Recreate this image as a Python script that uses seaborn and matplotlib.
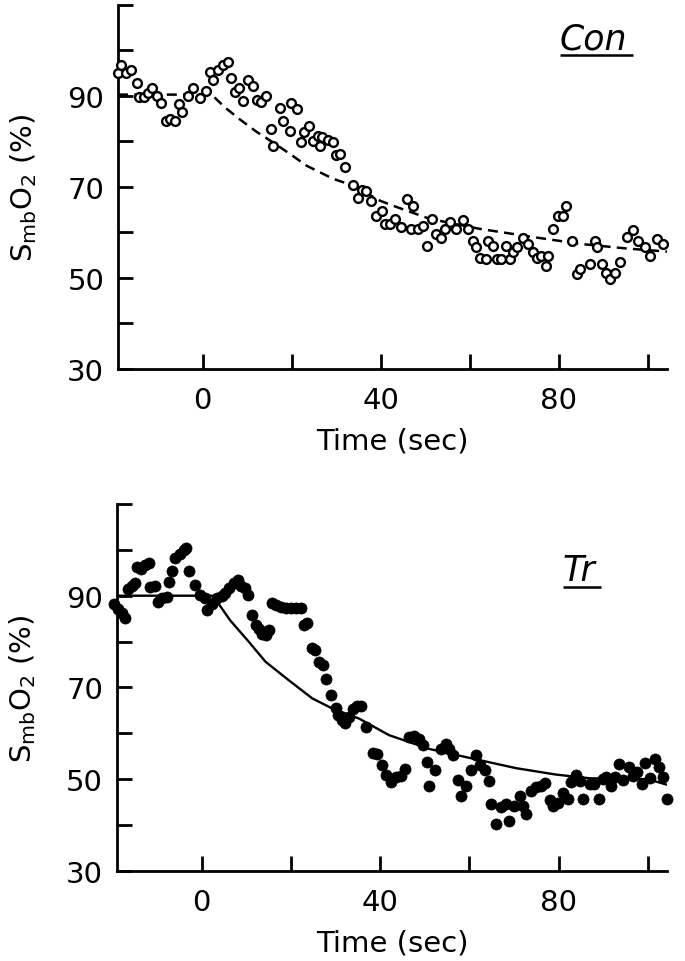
"""
SmbO2 time course after onset: control (Con) vs trained (Tr).
Output: out.png
"""
import matplotlib
matplotlib.use("Agg")
import matplotlib.pyplot as plt
import seaborn as sns
import pandas as pd

FIG_PATH = "out.png"

# Con: measured points (open circles)
con_t = [-19.0, -18.3, -17.2, -16.0, -14.8, -14.2, -13.2, -12.3, -11.3, -10.3,
         -9.3, -8.3, -7.4, -6.3, -5.3, -4.6, -3.3, -2.2, -0.7, 0.7,
         1.6, 2.3, 3.4, 4.6, 5.7, 6.4, 7.2, 8.2, 9.1, 10.2,
         11.3, 12.1, 13.2, 14.3, 15.4, 15.8, 17.3, 18.0, 19.6, 19.9,
         21.2, 22.2, 22.7, 23.9, 24.8, 25.9, 26.3, 26.9, 28.2, 29.3,
         30.0, 30.8, 31.9, 33.8, 34.9, 35.7, 36.8, 37.9, 39.0, 40.2,
         40.9, 42.0, 43.1, 44.6, 45.8, 46.9, 47.3, 48.4, 49.5, 50.3,
         51.4, 52.5, 53.6, 54.4, 55.5, 57.0, 58.4, 59.6, 60.7, 61.5,
         62.2, 63.6, 64.1, 65.2, 66.0, 67.1, 68.1, 69.0, 69.7, 70.5,
         72.0, 73.1, 74.2, 75.0, 76.1, 77.2, 77.6, 78.7, 79.8, 81.0,
         81.7, 82.9, 84.0, 84.7, 87.0, 88.1, 88.6, 89.6, 90.7, 91.5,
         92.6, 93.7, 95.2, 96.7, 97.8, 99.3, 100.4, 102.0, 103.4]
con_y = [95.1, 96.8, 95.1, 95.6, 92.8, 89.8, 89.8, 90.6, 91.7, 90.1,
         88.4, 84.4, 84.9, 84.4, 88.2, 86.5, 89.9, 91.7, 89.5, 91.2,
         95.2, 93.4, 95.6, 96.7, 97.4, 93.9, 90.9, 91.7, 89.0, 93.5,
         92.3, 89.2, 88.6, 90.1, 82.7, 78.9, 87.3, 84.4, 82.2, 88.5,
         87.1, 79.8, 82.0, 83.3, 80.0, 81.1, 78.9, 80.9, 80.4, 79.8,
         77.0, 77.3, 74.3, 70.4, 67.5, 69.4, 69.2, 67.0, 63.7, 64.8,
         61.9, 61.9, 63.0, 61.1, 67.4, 60.8, 65.9, 60.8, 61.5, 57.0,
         63.0, 59.7, 58.7, 60.8, 62.2, 60.8, 62.8, 60.8, 58.2, 56.7,
         54.5, 54.2, 58.2, 57.1, 54.2, 54.2, 57.0, 54.2, 55.6, 56.7,
         58.7, 57.5, 55.6, 54.3, 54.9, 52.7, 54.9, 60.8, 63.7, 63.7,
         65.9, 58.2, 50.9, 52.0, 53.1, 58.2, 56.7, 53.1, 51.2, 49.8,
         51.1, 53.6, 58.9, 60.6, 58.2, 56.7, 54.9, 58.6, 57.5]

# Con: fitted curve (dashed)
con_fit_t = [-19.0, 2.0, 5.0, 8.3, 12.0, 15.8, 20.0, 23.3, 29.3, 33.8,
             39.8, 42.7, 51.0, 62.2, 74.2, 84.7, 95.0, 104.3]
con_fit_y = [90.3, 90.3, 87.5, 84.9, 82.2, 79.8, 77.0, 74.7, 71.8, 70.3,
             67.0, 65.9, 63.0, 60.8, 59.0, 57.5, 56.5, 55.8]

# Tr: measured points (filled circles)
tr_t = [-19.6, -18.7, -17.8, -17.3, -16.6, -15.7, -14.9, -14.5, -13.6, -12.7,
        -11.9, -11.5, -10.4, -9.7, -8.8, -7.8, -7.4, -6.7, -5.9, -4.8,
        -4.0, -3.5, -2.9, -1.6, -0.3, 0.7, 1.2, 2.3, 3.4, 4.6,
        5.3, 6.2, 7.2, 8.2, 8.9, 9.8, 10.4, 11.2, 12.1, 12.8,
        13.6, 14.3, 15.1, 15.7, 16.7, 17.7, 18.8, 19.9, 21.1, 22.2,
        22.9, 23.7, 24.8, 25.4, 26.3, 27.2, 27.8, 28.9, 30.0, 30.6,
        31.4, 32.1, 33.0, 33.8, 34.7, 35.7, 36.8, 38.3, 39.4, 40.5,
        41.3, 42.4, 43.5, 44.6, 45.6, 46.5, 47.6, 48.8, 49.5, 50.6,
        51.0, 52.4, 53.6, 54.8, 55.5, 56.4, 57.4, 58.1, 59.3, 60.4,
        61.4, 62.3, 63.4, 64.4, 64.9, 66.0, 67.1, 68.3, 68.9, 70.1,
        71.3, 72.0, 72.8, 73.9, 75.0, 76.1, 76.9, 78.0, 78.8, 79.9,
        81.0, 82.1, 82.8, 83.8, 84.7, 85.5, 87.0, 87.9, 89.1, 90.0,
        90.7, 91.8, 92.6, 93.6, 94.5, 95.8, 96.7, 97.5, 98.6, 99.3,
        100.5, 101.6, 102.5, 103.4, 104.4]
tr_y = [88.1, 87.2, 86.3, 85.2, 91.4, 92.2, 92.7, 96.3, 95.9, 96.7,
        97.2, 91.9, 92.2, 88.7, 89.4, 89.8, 93.0, 95.4, 98.3, 99.0,
        99.9, 100.5, 95.4, 92.4, 90.1, 89.5, 86.8, 88.1, 89.4, 90.0,
        90.5, 91.7, 92.7, 93.4, 92.2, 91.6, 90.1, 85.9, 83.7, 82.7,
        81.7, 81.4, 82.5, 88.4, 87.9, 87.5, 87.3, 87.3, 87.3, 87.3,
        83.7, 84.1, 78.6, 78.1, 75.6, 74.8, 71.9, 68.3, 65.5, 64.1,
        62.8, 62.3, 63.6, 65.4, 66.0, 66.0, 61.4, 55.8, 55.5, 53.0,
        51.0, 49.4, 50.5, 50.8, 52.3, 59.2, 59.5, 58.8, 57.4, 53.7,
        48.6, 52.1, 56.6, 57.7, 56.6, 55.2, 49.9, 46.4, 48.6, 51.9,
        55.3, 53.1, 51.9, 49.7, 44.6, 40.3, 43.9, 44.6, 40.8, 44.2,
        46.4, 44.1, 42.4, 47.5, 48.2, 48.6, 49.2, 45.4, 44.2, 44.9,
        47.1, 45.7, 49.4, 51.0, 49.7, 45.7, 49.0, 49.0, 45.7, 50.1,
        50.5, 48.6, 50.5, 53.4, 49.9, 52.6, 50.8, 51.5, 49.0, 53.6,
        50.3, 54.5, 52.6, 50.5, 45.7]

# Tr: fitted curve (solid)
tr_fit_t = [-19.0, 2.5, 6.4, 10.6, 14.3, 19.6, 24.8, 29.3, 35.3, 42.0,
            51.0, 60.7, 70.5, 79.5, 87.0, 94.5, 100.0, 104.3]
tr_fit_y = [90.0, 90.0, 84.6, 79.9, 75.6, 71.5, 67.6, 65.4, 63.2, 59.6,
            56.6, 54.5, 52.4, 51.0, 50.2, 50.1, 50.0, 48.8]

XLIM = (-19, 104.3)
YLIM = (30, 110)
YLABEL = r"S$_{\mathrm{mb}}$O$_2$ (%)"
XLABEL = "Time (sec)"


def style_axis(ax):
    ax.set_xlim(*XLIM)
    ax.set_ylim(*YLIM)
    sns.despine(ax=ax)
    for side in ("left", "bottom"):
        ax.spines[side].set_linewidth(2.0)
        ax.spines[side].set_color("black")
    ax.set_xticks([0, 40, 80])
    ax.set_xticks([20, 60, 100], minor=True)
    ax.set_yticks([30, 50, 70, 90])
    ax.set_yticks([40, 60, 80, 100, 110], minor=True)
    ax.tick_params(which="both", direction="in", length=11, width=2.0,
                   labelsize=21, color="black", labelcolor="black")
    ax.tick_params(axis="x", pad=12)
    ax.tick_params(axis="y", pad=10)
    ax.set_xlabel(XLABEL, fontsize=21, labelpad=9, color="black")
    ax.set_ylabel(YLABEL, fontsize=21, labelpad=20, color="black")


def underlined_label(fig, ax, x, y, text):
    t = ax.text(x, y, text, fontsize=25, style="italic", ha="left",
                va="baseline", color="black")
    fig.canvas.draw()
    bb = t.get_window_extent(renderer=fig.canvas.get_renderer())
    inv = ax.transAxes.inverted()
    (x0, y0), (x1, _) = inv.transform([(bb.x0, bb.y0), (bb.x1 + 6, bb.y0)])
    ax.plot([x0, x1], [y0, y0], transform=ax.transAxes,
            color="black", lw=1.8, solid_capstyle="butt")


def main():
    sns.set_style("ticks")
    plt.rcParams["font.family"] = ["DejaVu Sans"]
    plt.rcParams["mathtext.default"] = "regular"
    plt.rcParams["text.color"] = "black"

    con = pd.DataFrame({"t": con_t, "y": con_y})
    con_fit = pd.DataFrame({"t": con_fit_t, "y": con_fit_y})
    tr = pd.DataFrame({"t": tr_t, "y": tr_y})
    tr_fit = pd.DataFrame({"t": tr_fit_t, "y": tr_fit_y})

    fig = plt.figure(figsize=(6.85, 9.62), dpi=100)
    ax1 = fig.add_axes([0.1723, 0.6154, 0.8015, 0.3784])
    ax2 = fig.add_axes([0.1708, 0.0936, 0.8029, 0.3815])

    # top panel: Con
    sns.lineplot(data=con_fit, x="t", y="y", ax=ax1, color="black",
                 linestyle=(0, (4, 2.5)), lw=1.8, sort=False, estimator=None)
    sns.scatterplot(data=con, x="t", y="y", ax=ax1, marker="o",
                    facecolor="white", edgecolor="black", linewidth=1.7,
                    s=40, zorder=3, clip_on=False)
    style_axis(ax1)

    # bottom panel: Tr
    sns.lineplot(data=tr_fit, x="t", y="y", ax=ax2, color="black",
                 lw=1.7, sort=False, estimator=None)
    sns.scatterplot(data=tr, x="t", y="y", ax=ax2, marker="o",
                    color="black", edgecolor="black", linewidth=0.5,
                    s=64, zorder=3, clip_on=False)
    style_axis(ax2)

    underlined_label(fig, ax1, 80.2, 100.5, "Con")
    underlined_label(fig, ax2, 80.9, 93.4, "Tr")

    fig.savefig(FIG_PATH, dpi=100)
    plt.close(fig)
    print(f"Saved {FIG_PATH}")


if __name__ == "__main__":
    main()
